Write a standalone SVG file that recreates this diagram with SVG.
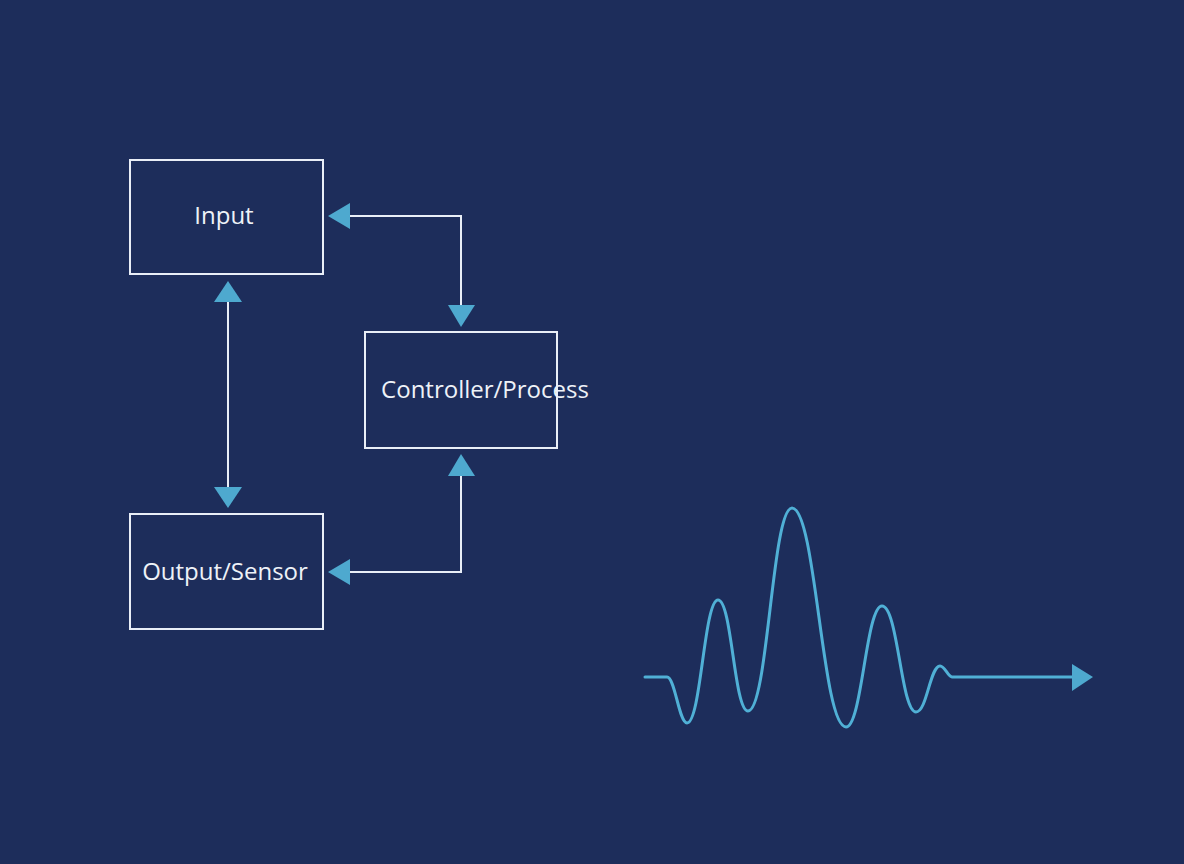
<svg xmlns="http://www.w3.org/2000/svg" width="1184" height="864" viewBox="0 0 1184 864">
<style>
.box{fill:none;stroke:#e9eef7;stroke-width:2}
.lbl{font-family:"Open Sans","Noto Sans",sans-serif;font-size:24px;fill:#eef2f8;text-anchor:middle}
.conn{fill:none;stroke:#e9eef7;stroke-width:2}
.head{fill:#4ea9cf}
.wave{fill:none;stroke:#50b0d6;stroke-width:3;stroke-linejoin:round;stroke-linecap:round}
</style>
<rect width="1184" height="864" fill="#1d2d5b"/>
<g id="input">
<rect class="box" x="130" y="160" width="193" height="114"/>
<text class="lbl" x="224" y="224">Input</text>
</g>
<g id="controller">
<rect class="box" x="365" y="332" width="192" height="116"/>
<text class="lbl" x="485" y="398">Controller/Process</text>
</g>
<g id="output">
<rect class="box" x="130" y="514" width="193" height="115"/>
<text class="lbl" x="225" y="580">Output/Sensor</text>
</g>
<g id="connectors">
<path class="conn" d="M348,216 H461 V306"/>
<polygon class="head" points="328,216 350,203 350,229"/>
<polygon class="head" points="461,327 448,305 475,305"/>
<path class="conn" d="M461,474 V572 H348"/>
<polygon class="head" points="461,454 448,476 475,476"/>
<polygon class="head" points="328,572 350,559 350,585"/>
<path class="conn" d="M228,300 V489"/>
<polygon class="head" points="228,281 214,302 242,302"/>
<polygon class="head" points="228,508 214,487 242,487"/>
</g>
<g id="waveform">
<path class="wave" d="M645,677 L667,677 C675,677 679,723 687,723 C701,723 704,600 718,600 C732,600 734,711 748,711 C768,711 772,508 792,508 C816,508 822,727 846,727 C862,727 866,606 882,606 C898,606 901,712 916,712 C927,712 930,666 940,666 C945,666 948,677 952,677 L1074,677"/>
<polygon class="head" points="1072,664 1093,677 1072,691"/>
</g>
</svg>
